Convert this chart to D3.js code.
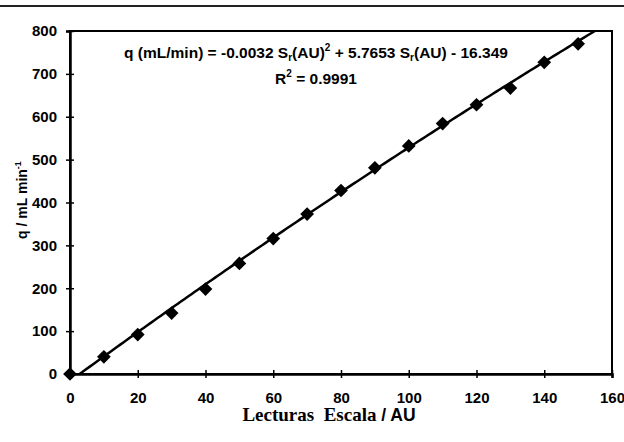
<!DOCTYPE html>
<html>
<head>
<meta charset="utf-8">
<script src="https://cdn.jsdelivr.net/npm/d3@7"></script>
<style>
  body { margin: 0; background: #fff; }
  svg text { font-family: Arial, "Liberation Sans", sans-serif; }
</style>
</head>
<body>
<div id="chart"></div>
<script>
// scale readings (AU) and measured flow (mL/min)
const lecturas = [0, 10, 20, 30, 40, 50, 60, 70, 80, 90, 100, 110, 120, 130, 140, 150];
const caudal   = [0, 40, 92, 142, 198, 258, 316, 373, 428, 481, 532, 584, 628, 667, 727, 770];
// trendline coefficients from the chart's equation (a S^2 + b S + c)
const coef = [-0.0032, 5.7653, -16.349];
const xTicks = [0, 20, 40, 60, 80, 100, 120, 140, 160];
const yTicks = [0, 100, 200, 300, 400, 500, 600, 700, 800];

const width = 624, height = 442;
const margin = {top: 31, right: 12, bottom: 68, left: 70};

const svg = d3.select('#chart').append('svg')
  .attr('width', width)
  .attr('height', height);

// top rule of the page
svg.append('line')
  .attr('x1', 0).attr('x2', width)
  .attr('y1', 6).attr('y2', 6)
  .attr('stroke', '#222').attr('stroke-width', 2);

const x = d3.scaleLinear().domain([0, 160]).range([margin.left, width - margin.right]);
const y = d3.scaleLinear().domain([0, 800]).range([height - margin.bottom, margin.top]);

svg.append('clipPath').attr('id', 'plot')
  .append('rect')
  .attr('x', x(0)).attr('y', y(800))
  .attr('width', x(160) - x(0)).attr('height', y(0) - y(800));

// frame
svg.append('rect')
  .attr('x', x(0)).attr('y', y(800))
  .attr('width', x(160) - x(0)).attr('height', y(0) - y(800))
  .attr('fill', 'none').attr('stroke', '#000').attr('stroke-width', 2);

// axes
const xAxis = svg.append('g')
  .attr('transform', `translate(0,${y(0)})`)
  .call(d3.axisBottom(x).tickValues(xTicks).tickSize(4).tickPadding(14));
const yAxis = svg.append('g')
  .attr('transform', `translate(${x(0)},0)`)
  .call(d3.axisLeft(y).tickValues(yTicks).tickSize(4).tickPadding(9));

[xAxis, yAxis].forEach(g => {
  g.select('.domain').attr('stroke', '#000').attr('stroke-width', 2.5);
  g.selectAll('.tick line').attr('stroke', '#000').attr('stroke-width', 1.5);
  g.selectAll('.tick text')
    .attr('font-size', '15px').attr('font-weight', 'bold')
    .attr('font-family', 'Arial, "Liberation Sans", sans-serif').attr('fill', '#000');
});
// ticks cross the axis line
xAxis.selectAll('.tick line').attr('y1', -4).attr('y2', 4);
yAxis.selectAll('.tick line').attr('x1', -4).attr('x2', 4);

// trendline
const s0 = (-coef[1] + Math.sqrt(coef[1] * coef[1] - 4 * coef[0] * coef[2])) / (2 * coef[0]);
const trend = d3.range(s0, 160.01, 1).map(s => [s, coef[0] * s * s + coef[1] * s + coef[2]]);
svg.append('path')
  .datum(trend)
  .attr('clip-path', 'url(#plot)')
  .attr('fill', 'none').attr('stroke', '#000').attr('stroke-width', 2.5)
  .attr('d', d3.line().x(d => x(d[0])).y(d => y(d[1])));

// points
svg.append('g')
  .selectAll('path')
  .data(lecturas)
  .join('path')
  .attr('transform', (d, i) => `translate(${x(d)},${y(caudal[i])})`)
  .attr('d', d3.symbol(d3.symbolDiamond2, 120))
  .attr('fill', '#000');

// equation
const eq = svg.append('text')
  .attr('x', 316).attr('y', 58)
  .attr('text-anchor', 'middle')
  .attr('font-size', '15.5px').attr('font-weight', 'bold');
eq.append('tspan').text('q (mL/min) = -0.0032 S');
eq.append('tspan').attr('font-size', '10px').attr('dy', 3).text('r');
eq.append('tspan').attr('dy', -3).text('(AU)');
eq.append('tspan').attr('font-size', '10px').attr('dy', -7).text('2');
eq.append('tspan').attr('dy', 7).text(' + 5.7653 S');
eq.append('tspan').attr('font-size', '10px').attr('dy', 3).text('r');
eq.append('tspan').attr('dy', -3).text('(AU) - 16.349');

const r2 = svg.append('text')
  .attr('x', 316).attr('y', 84)
  .attr('text-anchor', 'middle')
  .attr('font-size', '15.5px').attr('font-weight', 'bold');
r2.append('tspan').text('R');
r2.append('tspan').attr('font-size', '10px').attr('dy', -7).text('2');
r2.append('tspan').attr('dy', 7).text(' = 0.9991');

// axis titles
const xt = svg.append('text')
  .attr('x', 329).attr('y', 421)
  .attr('text-anchor', 'middle')
  .attr('font-size', '17.5px').attr('font-weight', 'bold');
xt.append('tspan').attr('font-family', '"Liberation Serif", "Times New Roman", serif')
  .attr('font-size', '19px').text('Lecturas\u00a0 Escala ');
xt.append('tspan').text('/ AU');

const yt = svg.append('text')
  .attr('transform', 'translate(27,200) rotate(-90)')
  .attr('text-anchor', 'middle')
  .attr('font-size', '14px').attr('font-weight', 'bold');
yt.append('tspan').text('q / mL min');
yt.append('tspan').attr('font-size', '9px').attr('dy', -6).text('-1');
</script>
</body>
</html>
